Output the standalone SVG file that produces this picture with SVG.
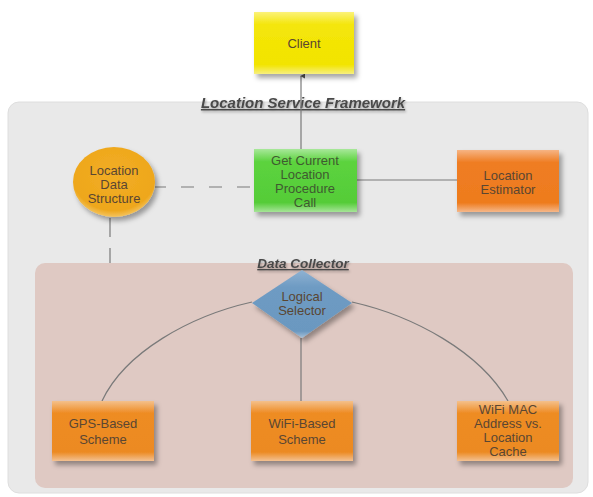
<svg xmlns="http://www.w3.org/2000/svg" width="593" height="497" viewBox="0 0 593 497">
<defs>
<filter id="sh" x="-20%" y="-20%" width="150%" height="160%">
<feDropShadow dx="3" dy="4" stdDeviation="2.5" flood-color="#000" flood-opacity="0.35"/>
</filter>
<filter id="tsh" x="-10%" y="-30%" width="120%" height="180%">
<feDropShadow dx="1" dy="1.5" stdDeviation="0.8" flood-color="#000" flood-opacity="0.3"/>
</filter>
<linearGradient id="gY" x1="0" y1="0" x2="0" y2="1">
<stop offset="0" stop-color="#fbf27a"/><stop offset="0.2" stop-color="#f4e60a"/><stop offset="0.85" stop-color="#f2e400"/><stop offset="1" stop-color="#f7ef80"/>
</linearGradient>
<linearGradient id="gG" x1="0" y1="0" x2="0" y2="1">
<stop offset="0" stop-color="#a8e89a"/><stop offset="0.2" stop-color="#5cd33e"/><stop offset="0.85" stop-color="#55cc38"/><stop offset="1" stop-color="#a6e498"/>
</linearGradient>
<linearGradient id="gO" x1="0" y1="0" x2="0" y2="1">
<stop offset="0" stop-color="#f6b484"/><stop offset="0.2" stop-color="#ef7d22"/><stop offset="0.85" stop-color="#ee7b1e"/><stop offset="1" stop-color="#f5b88a"/>
</linearGradient>
<linearGradient id="gO2" x1="0" y1="0" x2="0" y2="1">
<stop offset="0" stop-color="#f4c08a"/><stop offset="0.2" stop-color="#ee8c24"/><stop offset="0.85" stop-color="#ec8a22"/><stop offset="1" stop-color="#f3c192"/>
</linearGradient>
<radialGradient id="gC" cx="0.5" cy="0.4" r="0.6">
<stop offset="0" stop-color="#f2ad24"/><stop offset="0.85" stop-color="#eea71c"/><stop offset="1" stop-color="#f4c460"/>
</radialGradient>
<linearGradient id="gD" x1="0" y1="0" x2="0" y2="1">
<stop offset="0" stop-color="#8fb2d2"/><stop offset="0.25" stop-color="#6e9bc3"/><stop offset="0.9" stop-color="#6b98c0"/><stop offset="1" stop-color="#a9c2d8"/>
</linearGradient>
<marker id="arr" viewBox="0 0 6 6" refX="3" refY="1" markerWidth="5" markerHeight="5" orient="auto-start-reverse" markerUnits="userSpaceOnUse">
<path d="M0,6 L3,0 L6,6 z" fill="#555"/>
</marker>
</defs>
<style>
.lbl{font-family:"Liberation Sans",Arial,sans-serif;font-size:13px;fill:#5a4632;text-anchor:middle;}
.lg{fill:#3f5a30;}
.title{font-family:"Liberation Sans",Arial,sans-serif;font-weight:bold;font-style:italic;text-decoration:underline;fill:#4a4a4a;text-anchor:middle;}
.ln{fill:none;stroke:#7a7a7a;stroke-width:1.2;}
</style>
<rect x="0" y="0" width="593" height="497" fill="#ffffff"/>
<g id="framework">
<rect x="8" y="102" width="580" height="391" rx="11" fill="#e9e9e9" stroke="#dedede"/>
<text class="title" x="303" y="108" font-size="15" filter="url(#tsh)">Location Service Framework</text>
</g>
<g id="data-collector">
<rect x="35" y="263" width="538" height="225" rx="10" fill="#dfc9c3"/>
<text class="title" x="303" y="268" font-size="13.5" filter="url(#tsh)">Data Collector</text>
</g>
<g id="connectors">
<line class="ln" x1="301" y1="149" x2="301" y2="76" stroke="#555" marker-end="url(#arr)"/>
<line class="ln" x1="155" y1="187" x2="254" y2="187" stroke-dasharray="13 15" stroke-dashoffset="2"/>
<line class="ln" x1="110" y1="218" x2="110" y2="263" stroke-dasharray="19 11"/>
<line class="ln" x1="357" y1="180" x2="457" y2="180"/>
<line class="ln" x1="301" y1="338" x2="301" y2="401" stroke="#666"/>
<path class="ln" d="M252,302 C190,316 125,352 102,401" stroke="#8a7a78"/>
<path class="ln" d="M352,302 C414,316 480,352 508,401" stroke="#8a7a78"/>
</g>
<g id="client">
<rect x="254" y="12" width="100" height="62" fill="url(#gY)" filter="url(#sh)"/>
<text class="lbl" x="304" y="48" font-size="13.5" fill="#5a5020">Client</text>
</g>
<g id="location-data-structure">
<ellipse cx="114" cy="182" rx="41" ry="35" fill="url(#gC)" filter="url(#sh)"/>
<text class="lbl" x="114" y="175">Location</text>
<text class="lbl" x="114" y="189">Data</text>
<text class="lbl" x="114" y="203">Structure</text>
</g>
<g id="get-current-location">
<rect x="254" y="149" width="103" height="63" fill="url(#gG)" filter="url(#sh)"/>
<text class="lbl lg" x="305" y="165">Get Current</text>
<text class="lbl lg" x="305" y="179">Location</text>
<text class="lbl lg" x="305" y="193">Procedure</text>
<text class="lbl lg" x="305" y="207">Call</text>
</g>
<g id="location-estimator">
<rect x="457" y="150" width="102" height="62" fill="url(#gO)" filter="url(#sh)"/>
<text class="lbl" x="508" y="180">Location</text>
<text class="lbl" x="508" y="194">Estimator</text>
</g>
<g id="logical-selector">
<polygon points="302,270 352,303 302,338 252,303" fill="url(#gD)" filter="url(#sh)"/>
<text class="lbl" x="302" y="301" fill="#3f4f66">Logical</text>
<text class="lbl" x="302" y="315" fill="#3f4f66">Selector</text>
</g>
<g id="gps-based-scheme">
<rect x="52" y="401" width="102" height="60" fill="url(#gO2)" filter="url(#sh)"/>
<text class="lbl" x="103" y="428">GPS-Based</text>
<text class="lbl" x="103" y="444">Scheme</text>
</g>
<g id="wifi-based-scheme">
<rect x="251" y="401" width="102" height="60" fill="url(#gO2)" filter="url(#sh)"/>
<text class="lbl" x="302" y="428">WiFi-Based</text>
<text class="lbl" x="302" y="444">Scheme</text>
</g>
<g id="wifi-mac-cache">
<rect x="457" y="401" width="102" height="60" fill="url(#gO2)" filter="url(#sh)"/>
<text class="lbl" x="508" y="414">WiFi MAC</text>
<text class="lbl" x="508" y="428">Address vs.</text>
<text class="lbl" x="508" y="442">Location</text>
<text class="lbl" x="508" y="456">Cache</text>
</g>
</svg>
